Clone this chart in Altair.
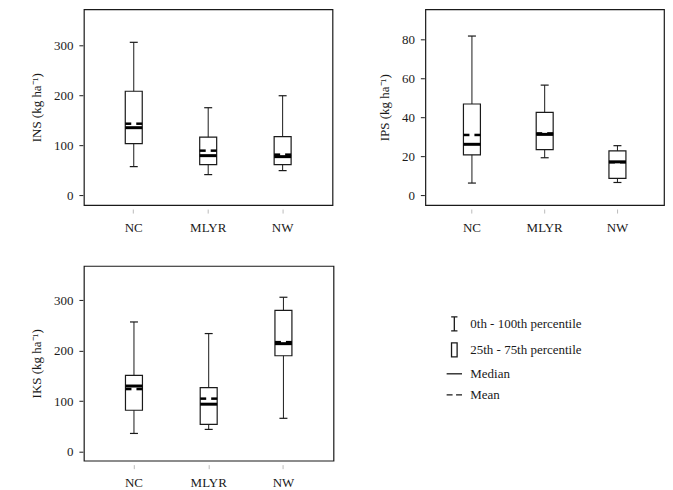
import altair as alt
import pandas as pd

regions = ["NC", "MLYR", "NW"]

# INS (kg ha-1)
ins_min = [57, 41, 49]
ins_q1 = [103, 61, 61]
ins_median = [135, 79, 77]
ins_mean = [143, 89, 81]
ins_q3 = [208, 116, 117]
ins_max = [306, 175, 199]

# IPS (kg ha-1)
ips_min = [6.3, 19.3, 6.6]
ips_q1 = [20.8, 23.5, 8.7]
ips_median = [26.2, 31.3, 17.2]
ips_mean = [31.0, 31.8, 17.0]
ips_q3 = [46.9, 42.6, 22.8]
ips_max = [81.8, 56.6, 25.5]

# IKS (kg ha-1)
iks_min = [36, 44, 66]
iks_q1 = [82, 54, 190]
iks_median = [130, 94, 214]
iks_mean = [124, 105, 217]
iks_q3 = [151, 127, 280]
iks_max = [257, 234, 306]

legend_items = ["0th - 100th percentile", "25th - 75th percentile", "Median", "Mean"]
legend_shapes = [
    "M-0.45,-1H0.45M0,-1V1M-0.45,1H0.45",
    "M-0.4,-1H0.4V1H-0.4Z",
    "M-1.1,0H1.1",
    "M-1.1,0H-0.25M0.25,0H1.1",
]

FONT = "Liberation Serif"
INK = "#1a1a1a"


def panel(title, mins, q1, med, mean, q3, maxs, ydomain, yticks, width, height, pad):
    df = pd.DataFrame({
        "region": regions, "min": mins, "q1": q1, "median": med,
        "mean": mean, "q3": q3, "max": maxs,
    })
    x = alt.X(
        "region:N",
        scale=alt.Scale(domain=regions, paddingInner=0, paddingOuter=pad),
        axis=alt.Axis(title=None, labelAngle=0, domain=False, tickColor="#bbbbbb",
                      tickSize=4, offset=4, labelPadding=8, labelFont=FONT,
                      labelFontSize=13, labelColor=INK),
    )
    y_scale = alt.Scale(domain=ydomain, nice=False, zero=False)
    y_axis = alt.Axis(values=yticks, title=title, titleFont=FONT, titleFontSize=13,
                      titleFontWeight="normal", titleColor=INK, labelFont=FONT,
                      labelFontSize=13, labelColor=INK, grid=False, domain=False,
                      tickSize=4, tickColor=INK, labelPadding=6, titlePadding=10,
                      offset=1)
    base = alt.Chart(df)
    whisk = base.mark_rule(color=INK, strokeWidth=1, opacity=1).encode(
        x=x, y=alt.Y("min:Q", scale=y_scale, axis=y_axis), y2="max:Q")
    box = base.mark_bar(size=17, fill="white", stroke=INK, strokeWidth=1.2, opacity=1).encode(
        x=x, y="q1:Q", y2="q3:Q")
    cap_lo = base.mark_tick(size=8, thickness=1.2, color=INK, opacity=1).encode(x=x, y="min:Q")
    cap_hi = base.mark_tick(size=8, thickness=1.2, color=INK, opacity=1).encode(x=x, y="max:Q")
    med_t = base.mark_tick(size=17, thickness=3, color="black", opacity=1).encode(x=x, y="median:Q")
    mean_l = base.mark_tick(size=6, thickness=2.5, color="black", opacity=1, xOffset=-5.5).encode(x=x, y="mean:Q")
    mean_r = base.mark_tick(size=6, thickness=2.5, color="black", opacity=1, xOffset=5.5).encode(x=x, y="mean:Q")
    return [whisk, box, cap_lo, cap_hi, med_t, mean_l, mean_r], (width, height)


l1, s1 = panel("INS (kg ha⁻¹)", ins_min, ins_q1, ins_median, ins_mean, ins_q3, ins_max,
               [-20, 372], [0, 100, 200, 300], 249, 196, 0.17)
l2, s2 = panel("IPS (kg ha⁻¹)", ips_min, ips_q1, ips_median, ips_mean, ips_q3, ips_max,
               [-5, 95.5], [0, 20, 40, 60, 80], 239, 196, 0.14)
l3, s3 = panel("IKS (kg ha⁻¹)", iks_min, iks_q1, iks_median, iks_mean, iks_q3, iks_max,
               [-18, 368], [0, 100, 200, 300], 250, 195, 0.17)

leg = alt.Chart(pd.DataFrame({"item": legend_items})).mark_point(
    clip=True, filled=False, color=INK, strokeWidth=1.3, opacity=1
).encode(
    x=alt.value(-30), y=alt.value(100),
    shape=alt.Shape("item:N", scale=alt.Scale(domain=legend_items, range=legend_shapes),
                    legend=alt.Legend(title=None, orient="none", legendX=363, legendY=307,
                                      labelFont=FONT, labelFontSize=13, labelColor=INK,
                                      symbolSize=196, symbolStrokeWidth=1.3,
                                      symbolStrokeColor=INK, rowPadding=6, labelOffset=8)),
)

p1 = alt.layer(*l1).properties(width=s1[0], height=s1[1])
p2 = alt.layer(*l2).properties(width=s2[0], height=s2[1])
p3 = alt.layer(*l3, leg).properties(width=s3[0], height=s3[1])

top = alt.hconcat(p1, p2, spacing=44)
chart = alt.vconcat(top, p3, spacing=30).properties(
    padding={"left": 21, "top": 0, "right": 0, "bottom": 0},
    background="white",
).configure_view(stroke=INK, strokeWidth=1.2)

chart.save("out.html", embed_options={"renderer": "svg", "actions": False})
